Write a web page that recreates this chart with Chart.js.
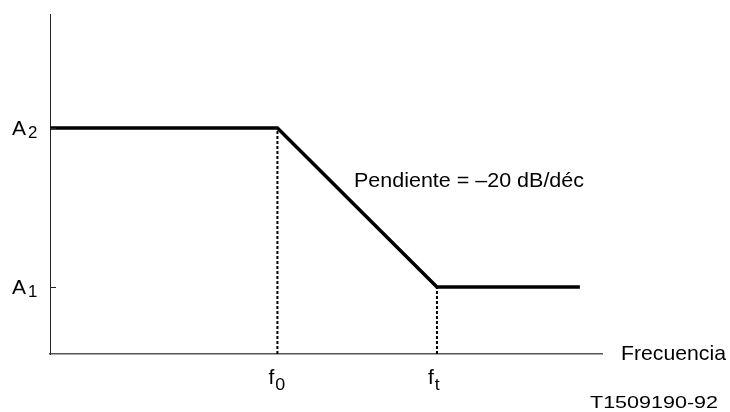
<!DOCTYPE html>
<html>
<head>
<meta charset="utf-8">
<script src="https://cdn.jsdelivr.net/npm/chart.js@4/dist/chart.umd.min.js"></script>
<style>
html,body{margin:0;padding:0;background:#fff;}
canvas{display:block;}
</style>
</head>
<body>
<canvas id="c" width="730" height="412"></canvas>
<script>
// Key levels / frequencies (arbitrary axis units)
const A1 = 1.97;
const A2 = 6.65;
const F0 = 4.12;
const FT = 7.01;
const FEND = 9.6;

// Response curve
const freqPoints = [0, F0, FT, FEND];
const levelPoints = [A2, A2, A1, A1];

// Dotted guide lines
const guideFreqs = [F0, FT];
const guideLevels = [A2, A1];

// Tick labels (main letter + subscript)
const yTickValues = [A1, A2];
const yTickMain = ['A', 'A'];
const yTickSub = ['1', '2'];
const xTickValues = [F0, FT];
const xTickMain = ['f', 'f'];
const xTickSub = ['0', 't'];

const xAxisTitle = 'Frecuencia';
const slopeLabel = 'Pendiente = –20 dB/déc';
const figureCode = 'T1509190-92';

const FONT = '"Liberation Sans", Arial, sans-serif';

const curve = freqPoints.map((f, i) => ({x: f, y: levelPoints[i]}));
const guides = guideFreqs.map((f, i) => ({
  data: [{x: f, y: 0}, {x: f, y: guideLevels[i]}],
  borderColor: '#000',
  borderWidth: 2,
  borderDash: [3, 2],
  pointRadius: 0,
  fill: false,
  tension: 0
}));

const labelPlugin = {
  id: 'labels',
  afterDraw(chart) {
    const ctx = chart.ctx;
    const xs = chart.scales.x, ys = chart.scales.y;
    ctx.save();
    ctx.fillStyle = '#000';
    ctx.textBaseline = 'alphabetic';
    ctx.textAlign = 'left';

    function stretched(text, x, y, size, sx) {
      ctx.font = size + 'px ' + FONT;
      ctx.save();
      ctx.translate(x, y);
      ctx.scale(sx, 1);
      ctx.fillText(text, 0, 0);
      ctx.restore();
      return ctx.measureText(text).width * sx;
    }
    function fitted(text, x, y, size, width) {
      ctx.font = size + 'px ' + FONT;
      const sx = width / ctx.measureText(text).width;
      stretched(text, x, y, size, sx);
    }
    function subText(x, y, main, sub, mainSize, subSize, subDrop, gap) {
      const w = stretched(main, x, y, mainSize, 1.05);
      stretched(sub, x + w + gap, y + subDrop, subSize, 1.05);
    }

    // y tick marks and labels
    yTickValues.forEach((v, i) => {
      const py = ys.getPixelForValue(v);
      ctx.strokeStyle = '#222';
      ctx.lineWidth = 1;
      ctx.beginPath();
      ctx.moveTo(xs.left, Math.round(py) + 0.5);
      ctx.lineTo(xs.left + 6, Math.round(py) + 0.5);
      ctx.stroke();
      subText(12, py + 7, yTickMain[i], yTickSub[i], 20, 16, 3, 2);
    });

    // x tick labels
    xTickValues.forEach((v, i) => {
      const px = xs.getPixelForValue(v);
      subText(px - 9, 384, xTickMain[i], xTickSub[i], 20, 17, 6, 1);
    });

    fitted(xAxisTitle, 621, 360, 21, 105);
    fitted(slopeLabel, 354, 187, 21, 230);
    fitted(figureCode, 590, 408, 17, 128);
    ctx.restore();
  }
};

new Chart(document.getElementById('c'), {
  type: 'line',
  data: {
    datasets: [{
      data: curve,
      borderColor: '#000',
      borderWidth: 3.5,
      pointRadius: 0,
      fill: false,
      tension: 0,
      borderCapStyle: 'butt',
      borderJoinStyle: 'miter'
    }].concat(guides)
  },
  options: {
    responsive: false,
    animation: false,
    devicePixelRatio: 1,
    layout: {padding: {left: 50, right: 128, top: 14, bottom: 58}},
    plugins: {legend: {display: false}, tooltip: {enabled: false}},
    scales: {
      x: {
        type: 'linear', min: 0, max: 10,
        grid: {display: false, drawTicks: false},
        ticks: {display: false},
        border: {display: true, color: '#555', width: 1.5},
        afterFit(s) { s.height = 0; }
      },
      y: {
        type: 'linear', min: 0, max: 10,
        grid: {display: false, drawTicks: false},
        ticks: {display: false},
        border: {display: true, color: '#222', width: 1},
        afterFit(s) { s.width = 0; }
      }
    }
  },
  plugins: [labelPlugin]
});
</script>
</body>
</html>
